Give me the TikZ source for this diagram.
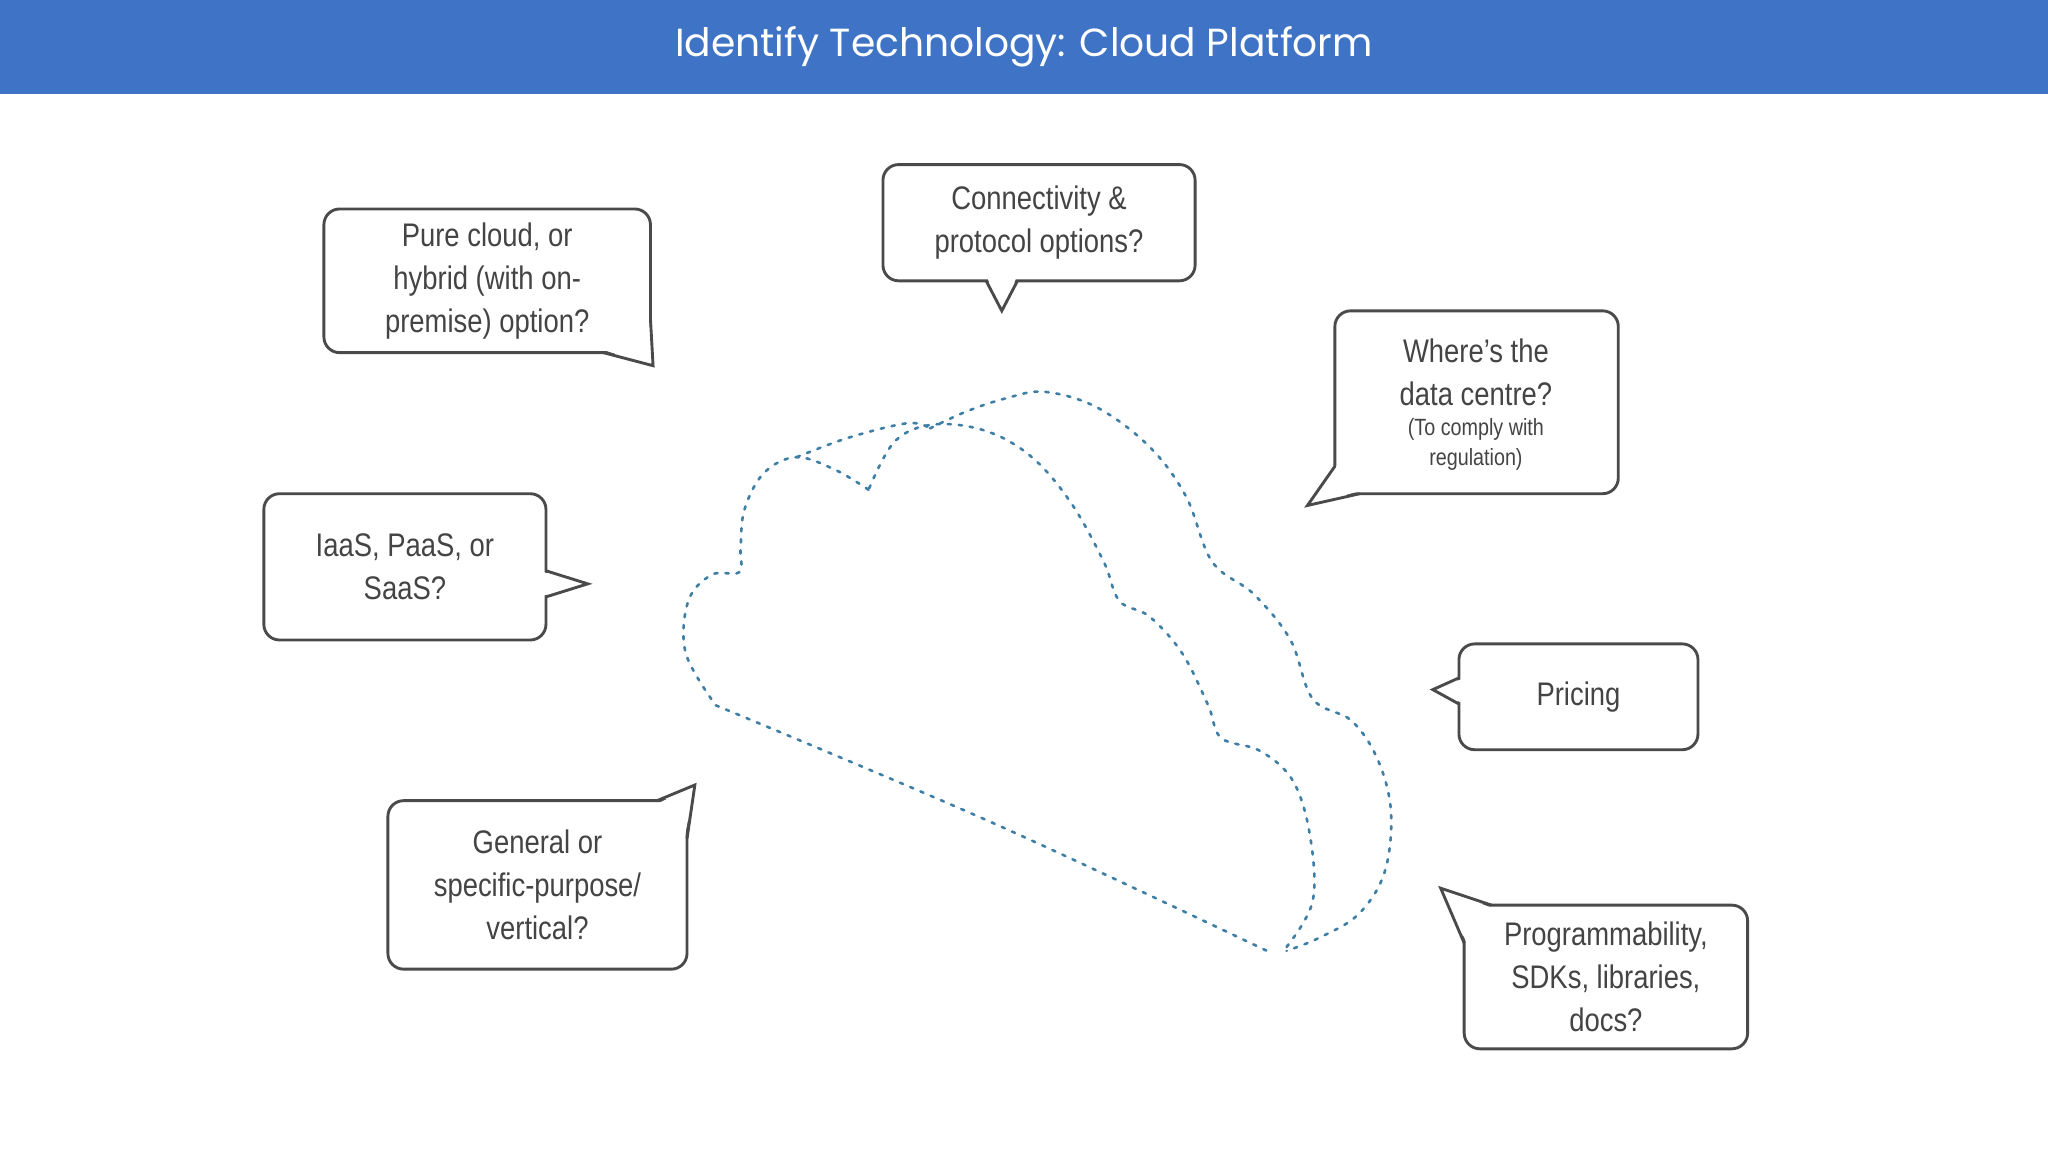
\documentclass[tikz,border=0pt]{standalone}
\usepackage{fontspec}
\setmainfont{Liberation Sans}[FakeStretch=0.84]
\newfontfamily\titlefont{Poppins}
\definecolor{barblue}{HTML}{3F73C6}
\definecolor{edge}{HTML}{4A4A4A}
\definecolor{txt}{HTML}{444444}
\definecolor{cloudc}{HTML}{3F7FA6}
\begin{document}
\begin{tikzpicture}[x=1pt,y=-1pt,
  box/.style={draw=edge,line width=2.2pt,rounded corners=12pt,fill=white,text=txt,align=center,font=\fontsize{25}{33}\selectfont,inner sep=0pt},
  tail/.style={draw=edge,line width=2.2pt,line join=miter},
  cl/.style={cloudc,line width=2pt,dash pattern=on 2.5pt off 6pt,line cap=round}]
\useasboundingbox (0,0) rectangle (1568,882);
\fill[white] (0,0) rectangle (1568,882);
\fill[barblue] (0,0) rectangle (1568,72);
\node[text=white,font=\titlefont\fontsize{30}{36}\selectfont] (title) at (784,36) {Identify Technology: Cloud Platform};
% cloud
\draw[cl] plot[smooth,tension=0.6] coordinates {(548,540)(760,630)(970,728)};
\draw[cl] plot[smooth,tension=0.6] coordinates {(985,725)(1005,690)(1003,640)(990,598)(965,575)(935,565)(925,540)(905,500)(880,472)(857,460)(845,430)(820,385)(790,350)(755,330)(715,325)(685,338)(665,375)};
\draw[cl] plot[smooth,tension=0.6] coordinates {(665,375)(640,360)(610,350)(585,362)(570,390)(567,420)(566,438)(545,440)(527,460)(525,500)(548,540)};
\draw[cl] plot[smooth,tension=0.6] coordinates {(610,350)(650,335)(695,324)(712,328)};
\draw[cl] plot[smooth,tension=0.6] coordinates {(712,328)(740,315)(770,305)(800,300)(840,312)(880,342)(908,380)(928,430)(960,455)(988,490)(1005,535)(1035,552)(1055,582)(1065,622)(1060,668)(1040,700)(1010,718)(985,728)};
% boxes
\node[box,minimum width=250pt,minimum height=110pt] (b1) at (373,215) {Pure cloud, or\\hybrid (with on-\\premise) option?};
\fill[white] (462,268) -- (500,280) -- (497,244) -- cycle;
\draw[tail] (462,270) -- (500,280) -- (498,244);
\node[box,minimum width=239pt,minimum height=89pt] (b2) at (795.5,170.5) {Connectivity \&\\protocol options?};
\fill[white] (756,213) -- (767,238) -- (778,213) -- cycle;
\draw[tail] (755,215) -- (767,238) -- (779,215);
\node[box,minimum width=217pt,minimum height=140pt] (b3) at (1130.5,308) {};
\node[text=txt,align=center,font=\fontsize{25}{33}\selectfont] (t3) at (1130,285) {Where’s the\\data centre?};
\node[text=txt,align=center,font=\fontsize{18}{23}\selectfont] (s3) at (1130,340) {(To comply with\\regulation)};
\fill[white] (1024,356) -- (1001,387) -- (1041,376) -- cycle;
\draw[tail] (1022,357) -- (1001,387) -- (1041,378);
\node[box,minimum width=216pt,minimum height=112pt] (b4) at (310,434) {IaaS, PaaS, or\\SaaS?};
\fill[white] (416,438) -- (450,447) -- (416,456) -- cycle;
\draw[tail] (418,437) -- (450,447) -- (418,457);
\node[box,minimum width=183pt,minimum height=81pt] (b5) at (1208.5,533.5) {Pricing};
\fill[white] (1119,520) -- (1097,528) -- (1119,538) -- cycle;
\draw[tail] (1117,519) -- (1097,528) -- (1117,539);
\node[box,minimum width=229pt,minimum height=129pt] (b6) at (411.5,677.5) {General or\\specific-purpose/\\vertical?};
\fill[white] (504,615) -- (532,601) -- (524,642) -- cycle;
\draw[tail] (503,613) -- (532,601) -- (526,642);
\node[box,minimum width=217pt,minimum height=110pt] (b7) at (1229.5,748) {Programmability,\\SDKs, libraries,\\docs?};
\fill[white] (1123,722) -- (1103,680) -- (1142,695) -- cycle;
\draw[tail] (1121,722) -- (1103,680) -- (1142,693);
\end{tikzpicture}
\end{document}
